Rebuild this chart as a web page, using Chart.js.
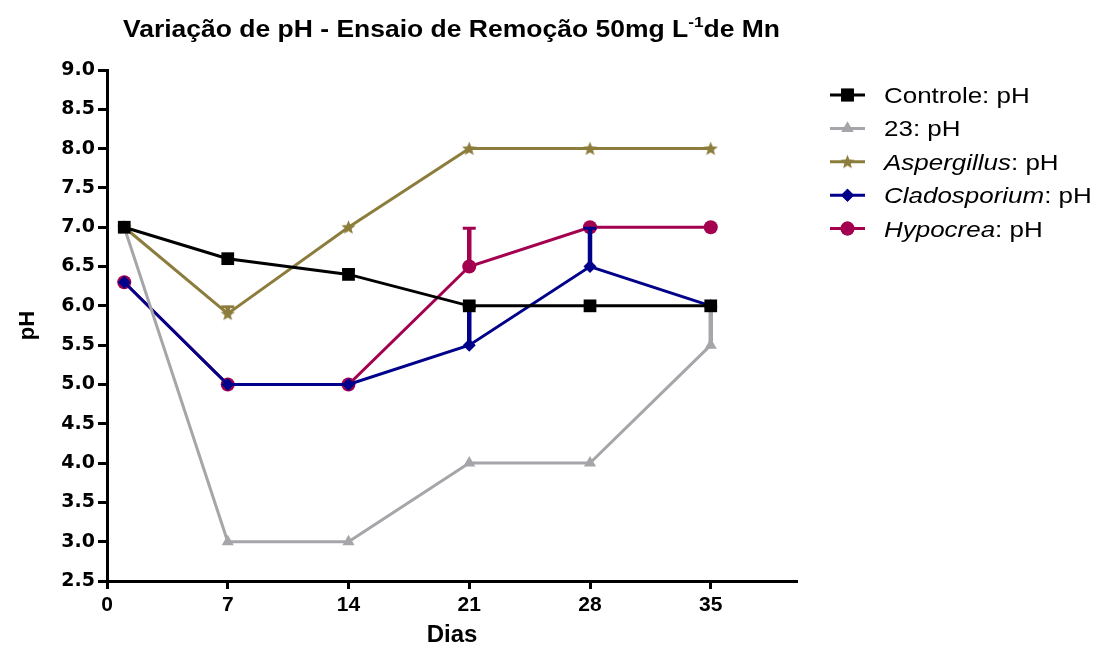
<!DOCTYPE html>
<html>
<head>
<meta charset="utf-8">
<script src="https://cdn.jsdelivr.net/npm/chart.js@4/dist/chart.umd.min.js"></script>
<style>
  html, body { margin: 0; padding: 0; background: #ffffff; overflow: hidden; }
  canvas { display: block; }
</style>
</head>
<body>
<canvas id="chart" width="1099" height="645"></canvas>
<script>
// Sampling days and axis ticks
const dias = [1, 7, 14, 21, 28, 35];
const xTicks = [0, 7, 14, 21, 28, 35];
const yTicks = [2.5, 3.0, 3.5, 4.0, 4.5, 5.0, 5.5, 6.0, 6.5, 7.0, 7.5, 8.0, 8.5, 9.0];

// pH means per treatment
const controle     = [7.0, 6.6, 6.4, 6.0, 6.0, 6.0];
const isolado23    = [7.0, 3.0, 3.0, 4.0, 4.0, 5.5];
const aspergillus  = [7.0, 5.9, 7.0, 8.0, 8.0, 8.0];
const cladosporium = [6.3, 5.0, 5.0, 5.5, 6.5, 6.0];
const hypocrea     = [6.3, 5.0, 5.0, 6.5, 7.0, 7.0];

// Upper error (SD) per treatment
const controleErr     = [0, 0, 0.07, 0, 0, 0];
const isolado23Err    = [0, 0, 0, 0, 0, 0.5];
const aspergillusErr  = [0, 0.1, 0, 0, 0, 0];
const cladosporiumErr = [0, 0, 0, 0.5, 0.5, 0];
const hypocreaErr     = [0, 0, 0, 0.5, 0, 0];

// Legend text: italic name part + plain suffix
const legendNames  = ['Controle', '23', 'Aspergillus', 'Cladosporium', 'Hypocrea'];
const legendItalic = [false, false, true, true, true];
const legendSuffix = ': pH';

const COLORS = ['#000000', '#a6a6aa', '#8c7d3c', '#00008a', '#a3004f'];

// Filled five-point star used as a point style
function makeStar(color, size) {
  const c = document.createElement('canvas');
  c.width = size; c.height = size;
  const g = c.getContext('2d');
  const cx = size / 2, cy = size / 2 + 0.5, ro = size / 2, ri = size / 4.6;
  g.beginPath();
  for (let k = 0; k < 10; k++) {
    const r = k % 2 === 0 ? ro : ri;
    const a = -Math.PI / 2 + k * Math.PI / 5;
    const px = cx + r * Math.cos(a), py = cy + r * Math.sin(a);
    if (k === 0) g.moveTo(px, py); else g.lineTo(px, py);
  }
  g.closePath();
  g.fillStyle = color;
  g.fill();
  return c;
}
const starImg = makeStar(COLORS[2], 15);

const styles = [
  { pointStyle: 'rect',     radius: 9 },
  { pointStyle: 'triangle', radius: 7 },
  { pointStyle: starImg,    radius: 7 },
  { pointStyle: 'rectRot',  radius: 6.5 },
  { pointStyle: 'circle',   radius: 7 }
];

const seriesValues = [controle, isolado23, aspergillus, cladosporium, hypocrea];
const seriesErrors = [controleErr, isolado23Err, aspergillusErr, cladosporiumErr, hypocreaErr];

const datasets = seriesValues.map((vals, i) => ({
  label: legendNames[i] + legendSuffix,
  data: dias.map((d, j) => ({ x: d, y: vals[j] })),
  borderColor: COLORS[i],
  backgroundColor: COLORS[i],
  borderWidth: 3,
  pointStyle: styles[i].pointStyle,
  pointRadius: styles[i].radius,
  pointBorderWidth: 0,
  pointBackgroundColor: COLORS[i],
  pointBorderColor: COLORS[i],
  tension: 0
}));

// Error bars drawn together with each dataset so stacking order is preserved
const errorBars = {
  id: 'errorBars',
  afterDatasetDraw(chart, args) {
    const i = args.index;
    const errs = seriesErrors[i];
    const vals = seriesValues[i];
    const ys = chart.scales.y;
    const ctx = chart.ctx;
    ctx.save();
    ctx.strokeStyle = COLORS[i];
    args.meta.data.forEach((pt, j) => {
      if (!errs[j]) return;
      const y0 = ys.getPixelForValue(vals[j]);
      const y1 = ys.getPixelForValue(vals[j] + errs[j]);
      ctx.lineWidth = 4.5;
      ctx.beginPath();
      ctx.moveTo(pt.x, y0);
      ctx.lineTo(pt.x, y1);
      ctx.stroke();
      ctx.lineWidth = 3;
      ctx.beginPath();
      ctx.moveTo(pt.x - 6.5, y1 + 1);
      ctx.lineTo(pt.x + 6.5, y1 + 1);
      ctx.stroke();
    });
    ctx.restore();
  }
};

// Title with superscript unit, and the series key on the right
const annotations = {
  id: 'annotations',
  afterDraw(chart) {
    const ctx = chart.ctx;
    ctx.save();
    ctx.fillStyle = '#000';
    ctx.textBaseline = 'alphabetic';
    ctx.textAlign = 'left';

    // Title
    const parts = [
      { t: 'Variação de pH - Ensaio de Remoção 50mg L', size: 23, dy: 0 },
      { t: '-1', size: 15, dy: -10 },
      { t: 'de Mn', size: 23, dy: 0 }
    ];
    let total = 0;
    parts.forEach(p => {
      ctx.font = 'bold ' + p.size + 'px "Liberation Sans", Arial, sans-serif';
      p.w = ctx.measureText(p.t).width;
      total += p.w;
    });
    const tLeft = 123, tRight = 780, tBase = 37;
    const sx = (tRight - tLeft) / total;
    ctx.save();
    ctx.translate(tLeft, tBase);
    ctx.scale(sx, 1);
    let cx = 0;
    parts.forEach(p => {
      ctx.font = 'bold ' + p.size + 'px "Liberation Sans", Arial, sans-serif';
      ctx.fillText(p.t, cx, p.dy);
      cx += p.w;
    });
    ctx.restore();

    // Key
    const rowY0 = 95, rowStep = 33.4;
    legendNames.forEach((name, i) => {
      const y = rowY0 + i * rowStep;
      ctx.strokeStyle = COLORS[i];
      ctx.lineWidth = 3;
      ctx.beginPath();
      ctx.moveTo(830, y);
      ctx.lineTo(865, y);
      ctx.stroke();
      const st = styles[i];
      if (typeof st.pointStyle === 'string') {
        ctx.fillStyle = COLORS[i];
        ctx.strokeStyle = COLORS[i];
        Chart.helpers.drawPoint(ctx, { pointStyle: st.pointStyle, radius: st.radius, rotation: 0, borderWidth: 0 }, 847.5, y);
        ctx.fill();
      } else {
        ctx.drawImage(st.pointStyle, 847.5 - st.pointStyle.width / 2, y - st.pointStyle.height / 2);
      }
      ctx.save();
      ctx.translate(884, y + 8);
      ctx.scale(1.18, 1);
      ctx.fillStyle = '#000';
      ctx.font = (legendItalic[i] ? 'italic ' : '') + '22px "Liberation Sans", Arial, sans-serif';
      ctx.fillText(name, 0, 0);
      const w = ctx.measureText(name).width;
      ctx.font = '22px "Liberation Sans", Arial, sans-serif';
      ctx.fillText(legendSuffix, w, 0);
      ctx.restore();
    });
    ctx.restore();
  }
};

new Chart(document.getElementById('chart').getContext('2d'), {
  type: 'line',
  data: { datasets },
  plugins: [errorBars, annotations],
  options: {
    responsive: false,
    animation: false,
    devicePixelRatio: 1,
    layout: { padding: { top: 70, right: 302, left: 0, bottom: 0 } },
    plugins: {
      legend: { display: false },
      title: { display: false },
      tooltip: { enabled: false }
    },
    scales: {
      x: {
        type: 'linear',
        min: 0,
        max: 40,
        afterBuildTicks: s => { s.ticks = xTicks.map(v => ({ value: v })); },
        afterFit: s => { s.height = 64; },
        grid: { drawOnChartArea: false, drawTicks: true, tickLength: 8, tickWidth: 3, tickColor: '#000' },
        border: { display: true, color: '#000', width: 3 },
        ticks: {
          color: '#000',
          padding: 4,
          maxRotation: 0,
          autoSkip: false,
          font: { family: '"Liberation Sans", Arial, sans-serif', weight: 'bold', size: 21 }
        },
        title: {
          display: true,
          text: 'Dias',
          color: '#000',
          padding: { top: 0, bottom: 0 },
          font: { family: '"Liberation Sans", Arial, sans-serif', weight: 'bold', size: 24, lineHeight: 0.8 }
        }
      },
      y: {
        min: 2.5,
        max: 9.0,
        afterBuildTicks: s => { s.ticks = yTicks.map(v => ({ value: v })); },
        afterFit: s => { s.width = 107; },
        grid: { drawOnChartArea: false, drawTicks: true, tickLength: 9, tickWidth: 3, tickColor: '#000' },
        border: { display: true, color: '#000', width: 3 },
        ticks: {
          color: '#000',
          padding: 3,
          autoSkip: false,
          callback: v => Number(v).toFixed(1),
          font: { family: '"DejaVu Sans", sans-serif', weight: 'bold', size: 19 }
        },
        title: {
          display: true,
          text: 'pH',
          color: '#000',
          padding: { top: 15, bottom: 0 },
          font: { family: '"Liberation Sans", Arial, sans-serif', weight: 'bold', size: 22, lineHeight: 1.2 }
        }
      }
    }
  }
});
</script>
</body>
</html>
